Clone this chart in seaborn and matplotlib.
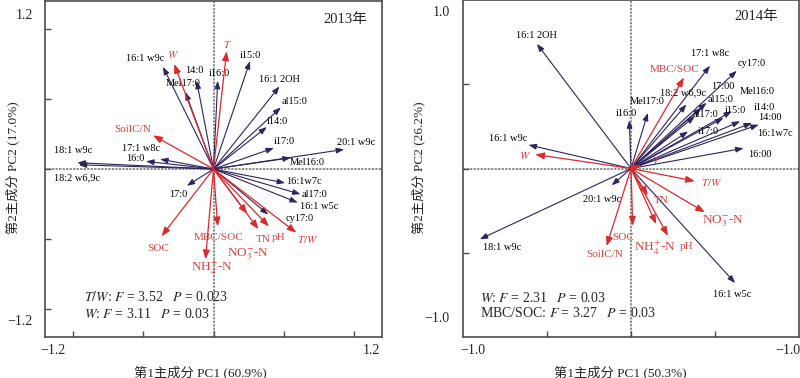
import matplotlib
matplotlib.use("Agg")
import matplotlib.pyplot as plt
import seaborn as sns

# ---------------- data: 2013 ----------------
micro13_names = ["16:1 w9c", "14:0", "Mel17:0", "i16:0", "i15:0", "16:1 2OH", "al15:0",
                 "i14:0", "i17:0", "20:1 w9c", "Mel16:0", "18:1 w9c", "17:1 w8c", "16:0",
                 "18:2 w6,9c", "17:0", "16:1w7c", "al17:0", "16:1 w5c", "cy17:0"]
micro13_pc1 = [-0.36, -0.12, -0.20, 0.03, 0.26, 0.47, 0.48, 0.38, 0.43, 0.93, 0.55,
               -0.97, -0.38, -0.48, -0.96, -0.19, 0.51, 0.62, 0.60, 0.39]
micro13_pc2 = [0.73, 0.63, 0.55, 0.63, 0.77, 0.59, 0.44, 0.30, 0.15, 0.14, 0.08,
               0.045, 0.07, 0.055, 0.03, -0.12, -0.10, -0.18, -0.24, -0.325]
env13_names = ["W", "T", "SoilC/N", "SOC", "MBC/SOC", "NH4", "NO3", "TN", "pH", "T/W"]
env13_pc1 = [-0.28, 0.093, -0.43, -0.37, 0.03, -0.057, 0.24, 0.32, 0.395, 0.59]
env13_pc2 = [0.75, 0.84, 0.24, -0.48, -0.41, -0.645, -0.32, -0.43, -0.41, -0.455]

# ---------------- data: 2014 ----------------
micro14_names = ["16:1 2OH", "17:1 w8c", "cy17:0", "17:00", "Mel16:0", "18:2 w6,9c", "al15:0",
                 "Mel17:0", "i16:0", "al17:0", "i15:0", "i14:0", "14:00", "i17:0",
                 "16:1w7c", "16:00", "16:1 w9c", "20:1 w9c", "18:1 w9c", "16:1 w5c"]
micro14_pc1 = [-0.56, 0.47, 0.63, 0.45, 0.60, 0.33, 0.42, 0.10, -0.01, 0.38, 0.55,
               0.65, 0.72, 0.34, 0.76, 0.67, -0.61, -0.115, -0.90, 0.62]
micro14_pc2 = [0.74, 0.61, 0.58, 0.39, 0.34, 0.38, 0.36, 0.33, 0.286, 0.31, 0.30,
               0.28, 0.27, 0.22, 0.26, 0.12, 0.14, -0.10, -0.42, -0.68]
env14_names = ["W", "T", "MBC/SOC", "T/W", "TN", "NO3", "NH4", "pH", "SOC", "SoilC/N"]
env14_pc1 = [-0.57, 0.06, 0.315, 0.38, 0.10, 0.44, 0.15, 0.22, 0.01, -0.145]
env14_pc2 = [0.083, 0.02, 0.54, -0.075, -0.16, -0.26, -0.33, -0.40, -0.34, -0.46]

# ---------------- display text ----------------
env_display = {"W": "$W$", "T": "$T$", "T/W": "$T/W$",
               "NH4": r"NH$_4^{+}$-N", "NO3": r"NO$_3^{-}$-N"}
big_env = {"NH4", "NO3"}

# ---------------- layout (label offsets, pixels) ----------------
micro13_off = [(-18, 8), (-2, 10), (-2, 8), (2, 7), (0, 6), (0, 7), (14, 6), (11, 6),
               (10, 6), (12, 7), (17, -5), (-4, 12), (-19, 11), (-11, 3), (-2, -13),
               (-9, -9), (19, 1), (14, 0), (21, -4), (31, -4)]
env13_off = [(-1, 9), (1, 7), (-20, 6), (-3, -12), (1, -11), (6, -9), (1, -40),
             (5, -10), (10, -11), (11, -7)]
micro14_off = [(0, 8), (0, 12), (15, 7), (16, 16), (25, 20), (-3, 12), (19, 8), (-1, 11),
               (-3, 7), (11, 2), (12, 7), (24, 14), (18, 6), (20, 0), (16, -9), (16, -6),
               (-20, 6), (-10, -14), (22, -8), (-3, -11)]
env14_off = [(-10, -1), (15, 5), (-9, 8), (17, -1), (13, -5), (18, -9), (-1, -24),
             (19, -11), (-9, -12), (-2, -8)]

PURPLE = "#2f2360"
RED = "#dc2a2a"
RED_TXT = "#e0403c"

sns.set_theme(style="white")
plt.rcParams["font.family"] = ["Liberation Serif", "Noto Sans CJK SC", "DejaVu Sans"]
plt.rcParams["mathtext.fontset"] = "stix"

fig = plt.figure(figsize=(8, 3.78), dpi=100)
W_PX, H_PX = 800, 378


def ax_rect(x0, y0, x1, y1):
    return [x0 / W_PX, 1 - y1 / H_PX, (x1 - x0) / W_PX, (y1 - y0) / H_PX]


def draw_panel(ax, lim, ticks, mnames, mx, my, moff, enames, ex, ey, eoff):
    ax.set_xlim(-lim, lim)
    ax.set_ylim(-lim, lim)
    ax.axhline(0, color="#6e6e6e", lw=1.1, ls=(0, (1.5, 0.8)), zorder=0)
    ax.axvline(0, color="#6e6e6e", lw=1.1, ls=(0, (1.5, 0.8)), zorder=0)
    for name, x, y, off in zip(mnames, mx, my, moff):
        ax.annotate("", xy=(x, y), xytext=(0, 0),
                    arrowprops=dict(arrowstyle="-|>,head_length=0.38,head_width=0.14",
                                    color=PURPLE, lw=0.8, shrinkA=0, shrinkB=0))
        ax.annotate(name, xy=(x, y), xytext=off, textcoords="offset pixels",
                    ha="center", va="center", fontsize=7.5, color="black")
    for name, x, y, off in zip(enames, ex, ey, eoff):
        ax.annotate("", xy=(x, y), xytext=(0, 0),
                    arrowprops=dict(arrowstyle="-|>,head_length=0.45,head_width=0.17",
                                    color=RED, lw=0.9, shrinkA=0, shrinkB=0))
        ax.annotate(env_display.get(name, name), xy=(x, y), xytext=off,
                    textcoords="offset pixels", ha="center", va="center",
                    fontsize=9.5 if name in big_env else 8, color=RED_TXT)
    ax.set_xticks(ticks)
    ax.set_yticks(ticks)
    ax.tick_params(direction="in", length=4, width=1, colors="#4d4d4d",
                   bottom=True, left=True, top=False, right=False,
                   labelbottom=False, labelleft=False)
    for s in ax.spines.values():
        s.set_color("#4d4d4d")
        s.set_linewidth(1.2)


# ---- 2013 ----
ax1 = fig.add_axes(ax_rect(45, 1, 382, 337))
draw_panel(ax1, 1.2, [-1, -0.5, 0, 0.5, 1],
           micro13_names, micro13_pc1, micro13_pc2, micro13_off,
           env13_names, env13_pc1, env13_pc2, env13_off)
ax1.text(0.89, 0.946, "2013年", transform=ax1.transAxes, ha="center", va="center", fontsize=10.5)
ax1.text(-0.036, 0.958, "1.2", transform=ax1.transAxes, ha="right", va="center", fontsize=10)
ax1.text(-0.036, 0.045, "\u22121.2", transform=ax1.transAxes, ha="right", va="center", fontsize=10)
ax1.text(0.024, -0.039, "\u22121.2", transform=ax1.transAxes, ha="center", va="center", fontsize=10)
ax1.text(0.970, -0.039, "1.2", transform=ax1.transAxes, ha="center", va="center", fontsize=10)
ax1.text(0.116, 0.119, r"$T/W$: $F$ = 3.52   $P$ = 0.023", transform=ax1.transAxes,
         ha="left", va="center", fontsize=10)
ax1.text(0.116, 0.068, r"$W$: $F$ = 3.11   $P$ = 0.03", transform=ax1.transAxes,
         ha="left", va="center", fontsize=10)

# ---- 2014 ----
ax2 = fig.add_axes(ax_rect(463, 0, 799, 337))
draw_panel(ax2, 1.0, [-0.5, 0, 0.5],
           micro14_names, micro14_pc1, micro14_pc2, micro14_off,
           env14_names, env14_pc1, env14_pc2, env14_off)
ax2.text(0.872, 0.95, "2014年", transform=ax2.transAxes, ha="center", va="center", fontsize=10.5)
ax2.text(-0.039, 0.964, "1.0", transform=ax2.transAxes, ha="right", va="center", fontsize=10)
ax2.text(-0.039, 0.056, "\u22121.0", transform=ax2.transAxes, ha="right", va="center", fontsize=10)
ax2.text(0.030, -0.039, "\u22121.0", transform=ax2.transAxes, ha="center", va="center", fontsize=10)
ax2.text(0.967, -0.039, "\u22121.0", transform=ax2.transAxes, ha="center", va="center", fontsize=10)
ax2.text(0.05, 0.116, r"$W$: $F$ = 2.31   $P$ = 0.03", transform=ax2.transAxes,
         ha="left", va="center", fontsize=10)
ax2.text(0.05, 0.071, r"MBC/SOC: $F$ = 3.27   $P$ = 0.03", transform=ax2.transAxes,
         ha="left", va="center", fontsize=10)

# ---- axis titles ----
fig.text(200 / W_PX, 1 - 372 / H_PX, "第1主成分 PC1 (60.9%)", ha="center", va="center", fontsize=9.5)
fig.text(620 / W_PX, 1 - 372 / H_PX, "第1主成分 PC1 (50.3%)", ha="center", va="center", fontsize=9.5)
fig.text(12 / W_PX, 1 - 168 / H_PX, "第2主成分 PC2 (17.0%)", ha="center", va="center",
         rotation=90, fontsize=9.5)
fig.text(418 / W_PX, 1 - 168 / H_PX, "第2主成分 PC2 (26.2%)", ha="center", va="center",
         rotation=90, fontsize=9.5)

fig.savefig("out.png", dpi=100, facecolor="white")
